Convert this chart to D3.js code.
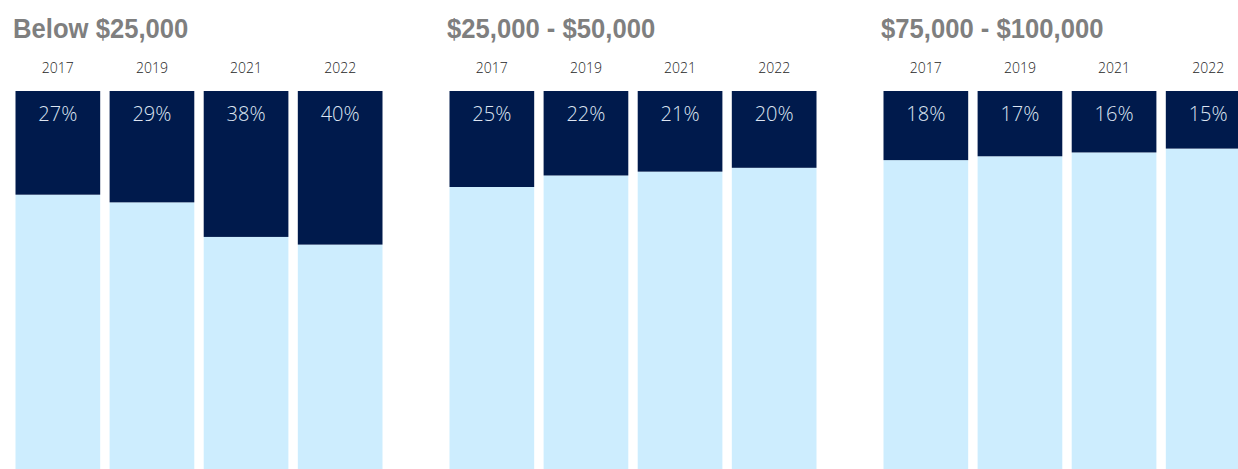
<!DOCTYPE html>
<html>
<head>
<meta charset="utf-8">
<script src="https://cdn.jsdelivr.net/npm/d3@7"></script>
<style>
  html, body { margin: 0; padding: 0; background: #ffffff; overflow: hidden; }
  svg { display: block; }
</style>
</head>
<body>
<svg id="chart" width="1238" height="469"></svg>
<script>
// ---- Data ----
const years = ["2017", "2019", "2021", "2022"];
const groups = ["Below $25,000", "$25,000 - $50,000", "$75,000 - $100,000"];
const below25k = [27, 29, 38, 40];
const from25kTo50k = [25, 22, 21, 20];
const from75kTo100k = [18, 17, 16, 15];
const seriesByGroup = [below25k, from25kTo50k, from75kTo100k];

// ---- Styles ----
const DARK = "#001a4c";
const LIGHT = "#cdedfe";
const TITLE_COLOR = "#7f7f7f";

const svg = d3.select("#chart");

const panelX = d3.scaleBand().domain(groups).range([15.5, 15.5 + 434 * 3]).padding(0);
const x = d3.scaleBand().domain(years).range([0, 367]).paddingInner(0.1).paddingOuter(0);
const y = d3.scaleLinear().domain([0, 100]).range([91, 475]);

groups.forEach((g, gi) => {
  const vals = seriesByGroup[gi];
  const data = years.map((yr, i) => ({ year: yr, value: vals[i] }));
  const panel = svg.append("g").attr("transform", `translate(${panelX(g)},0)`);

  panel.append("text")
    .attr("transform", "translate(-2.5,38) scale(0.95,1)")
    .attr("font-family", "'Liberation Sans Narrow', 'Arial Narrow', 'Liberation Sans', sans-serif")
    .attr("font-weight", "bold")
    .attr("font-size", 27)
    .attr("fill", TITLE_COLOR)
    .text(g);

  // Year labels as a top axis without lines
  const axis = d3.axisTop(x).tickSize(0).tickPadding(0);
  const ax = panel.append("g").attr("transform", "translate(0,73)").call(axis);
  ax.select(".domain").remove();
  ax.selectAll("text")
    .attr("font-family", "'Open Sans', 'Noto Sans', sans-serif")
    .attr("font-weight", 300)
    .attr("font-size", 14)
    .attr("fill", "#262626")
    .attr("dy", 0);

  // Light remainder
  panel.selectAll("rect.rest").data(data).join("rect")
    .attr("class", "rest")
    .attr("x", d => x(d.year))
    .attr("width", x.bandwidth())
    .attr("y", d => y(d.value))
    .attr("height", d => y(100) - y(d.value))
    .attr("fill", LIGHT);

  // Dark share
  panel.selectAll("rect.share").data(data).join("rect")
    .attr("class", "share")
    .attr("x", d => x(d.year))
    .attr("width", x.bandwidth())
    .attr("y", y(0))
    .attr("height", d => y(d.value) - y(0))
    .attr("fill", DARK);

  panel.selectAll("text.pct").data(data).join("text")
    .attr("class", "pct")
    .attr("x", d => x(d.year) + x.bandwidth() / 2)
    .attr("y", y(0) + 30)
    .attr("text-anchor", "middle")
    .attr("font-family", "'Open Sans', 'Noto Sans', sans-serif")
    .attr("font-weight", 300)
    .attr("font-size", 20)
    .attr("fill", "#dde5f2")
    .text(d => d.value + "%");
});
</script>
</body>
</html>
